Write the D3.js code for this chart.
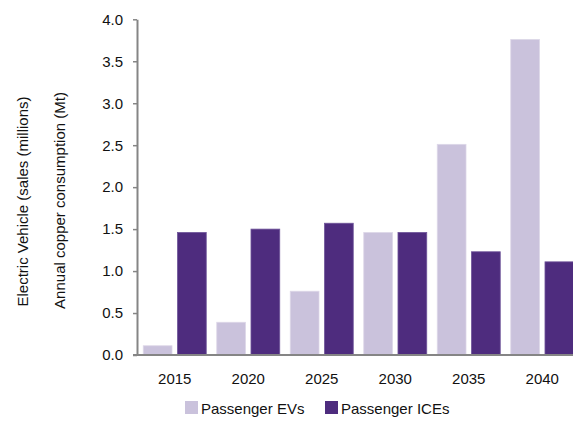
<!DOCTYPE html>
<html>
<head>
<meta charset="utf-8">
<script src="https://cdn.jsdelivr.net/npm/d3@7"></script>
<style>
  html, body { margin: 0; padding: 0; background: #fff; }
  svg { display: block; font-family: "Liberation Sans", Arial, sans-serif; }
</style>
</head>
<body>
<svg id="chart" width="573" height="422"></svg>
<script>
// Years on the category axis
const years = ["2015", "2020", "2025", "2030", "2035", "2040"];
// Series names as shown in the legend
const seriesNames = ["Passenger EVs", "Passenger ICEs"];
// EV sales (millions) per year
const evValues = [0.11, 0.39, 0.76, 1.46, 2.51, 3.76];
// ICE copper consumption (Mt) per year
const iceValues = [1.46, 1.50, 1.57, 1.46, 1.23, 1.11];
// Y tick values
const yTicks = [0, 0.5, 1.0, 1.5, 2.0, 2.5, 3.0, 3.5, 4.0];

const colors = { "Passenger EVs": "#cac2dc", "Passenger ICEs": "#4e2c7e" };
const strokes = { "Passenger EVs": "#ddd7e8", "Passenger ICEs": "#6f559a" };

const svg = d3.select("#chart");

const axisX = 137, baseY = 355, topY = 19.3;

const y = d3.scaleLinear().domain([0, 4]).range([baseY, topY]);
const x0 = d3.scaleBand().domain(years).range([138, 579])
  .paddingInner(0.143).paddingOuter(0.0715);
const x1 = d3.scaleBand().domain(seriesNames).range([0, x0.bandwidth()])
  .paddingInner(0.16);

const rows = years.map((yr, i) => ({
  year: yr,
  vals: [
    { name: seriesNames[0], v: evValues[i] },
    { name: seriesNames[1], v: iceValues[i] }
  ]
}));

// Bars
const groups = svg.append("g").selectAll("g").data(rows).join("g")
  .attr("transform", d => `translate(${x0(d.year)},0)`);
groups.selectAll("rect").data(d => d.vals).join("rect")
  .attr("x", d => x1(d.name))
  .attr("y", d => y(d.v))
  .attr("width", x1.bandwidth())
  .attr("height", d => y(0) - y(d.v))
  .attr("fill", d => colors[d.name])
  .attr("stroke", d => strokes[d.name])
  .attr("stroke-width", 0.8);

// Y axis
const yAxis = d3.axisLeft(y).tickValues(yTicks).tickFormat(d3.format(".1f"))
  .tickSize(4).tickSizeOuter(0).tickPadding(10);
const gy = svg.append("g").attr("transform", `translate(${axisX},0)`).call(yAxis);
gy.select(".domain").attr("stroke", "#858585").attr("stroke-width", 2);
gy.selectAll(".tick line").attr("stroke", "#858585").attr("stroke-width", 1.5);
gy.selectAll(".tick text").attr("fill", "#111").style("font-size", "15px")
  .style("font-family", "'Liberation Sans', Arial, sans-serif");

// X axis (labels only, no tick marks)
const xAxis = d3.axisBottom(x0).tickSize(0).tickPadding(18);
const gx = svg.append("g").attr("transform", `translate(0,${baseY})`).call(xAxis);
gx.select(".domain").remove();
gx.selectAll(".tick text").attr("fill", "#111").style("font-size", "15px")
  .style("font-family", "'Liberation Sans', Arial, sans-serif");
svg.append("line")
  .attr("x1", axisX - 4).attr("x2", 573)
  .attr("y1", baseY).attr("y2", baseY)
  .attr("stroke", "#858585").attr("stroke-width", 2);

// Y axis titles
svg.append("text")
  .attr("transform", "translate(28,201.5) rotate(-90)")
  .attr("text-anchor", "middle")
  .attr("fill", "#111").style("font-size", "15px")
  .text("Electric Vehicle (sales (millions)");
svg.append("text")
  .attr("transform", "translate(65,200.5) rotate(-90)")
  .attr("text-anchor", "middle")
  .attr("fill", "#111").style("font-size", "15px")
  .text("Annual copper consumption (Mt)");

// Legend
const legendX = [185, 325];
const legend = svg.append("g").selectAll("g").data(seriesNames).join("g")
  .attr("transform", (d, i) => `translate(${legendX[i]},401)`);
legend.append("rect").attr("width", 13).attr("height", 13)
  .attr("fill", d => colors[d]);
legend.append("text").attr("x", 16).attr("y", 13)
  .attr("fill", "#111").style("font-size", "15px")
  .text(d => d);
</script>
</body>
</html>
